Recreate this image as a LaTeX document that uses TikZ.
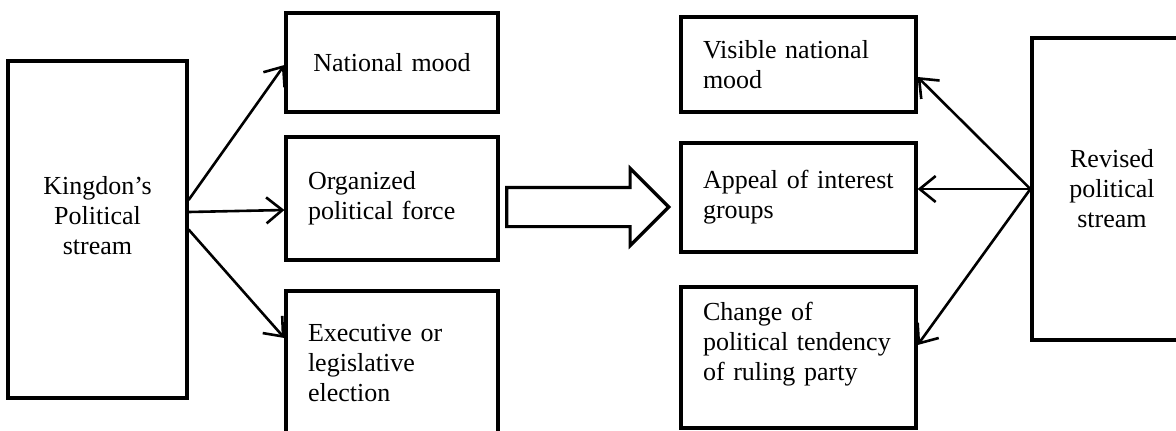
\documentclass[tikz,border=0pt]{standalone}
\usepackage{fontspec}
\setmainfont{Liberation Serif}
\usetikzlibrary{arrows.meta,shapes.arrows}
\begin{document}
\begin{tikzpicture}[x=0.5pt,y=-0.5pt,
  font=\fontsize{13}{15}\selectfont,
  box/.style={draw,line width=1.6pt,inner sep=0pt,align=left},
  flow/.style={line width=1.3pt,-{Straight Barb[length=8pt,width=13pt]}}]
  \useasboundingbox (0,0) rectangle (1176,430);
  \clip (0,0) rectangle (1176,430);
  \node[box,align=center,minimum width=89.5pt,minimum height=168.5pt,text depth=14pt] (king) at (97.5,229.5) {Kingdon's\\Political\\stream};
  \node[box,align=center,minimum width=106pt,minimum height=49.5pt,text width=84pt] (mood) at (392,62.5) {National mood};
  \node[box,minimum width=106pt,minimum height=61.5pt,text width=84pt] (force) at (392,198.5) {Organized\\political force};
  \node[box,minimum width=106pt,minimum height=72pt,text width=84pt] (elect) at (392,363) {Executive or\\legislative\\election};
  \node[box,minimum width=117.5pt,minimum height=47.5pt,text width=95.5pt] (vis) at (798.5,64.5) {Visible national\\mood};
  \node[box,minimum width=117.5pt,minimum height=54.5pt,text width=95.5pt] (app) at (798.5,197.5) {Appeal of interest\\groups};
  \node[box,minimum width=117.5pt,minimum height=70.5pt,text width=95.5pt,text depth=46.3pt] (chg) at (798.5,357.5) {Change of\\political tendency\\of ruling party};
  \node[box,align=center,minimum width=80pt,minimum height=151pt] (rev) at (1112,189) {Revised\\political\\stream};
  \node[draw,line width=1.6pt,single arrow,single arrow head extend=9.5pt,minimum height=81pt,inner xsep=0pt,inner ysep=9pt,anchor=tip] (shift) at (671,207) {};
  \draw[flow] ([yshift=14.75pt]king.east) -- ([yshift=-1.25pt]mood.west);
  \draw[flow] ([yshift=8.75pt]king.east) -- ([yshift=-5.75pt]force.west);
  \draw[flow] (king.east) -- ([yshift=12.5pt]elect.west);
  \draw[flow] (rev.west) -- ([yshift=-6.25pt]vis.east);
  \draw[flow] (rev.west) -- (rev.west -| app.east);
  \draw[flow] (rev.west) -- ([yshift=6.25pt]chg.east);
\end{tikzpicture}
\end{document}
